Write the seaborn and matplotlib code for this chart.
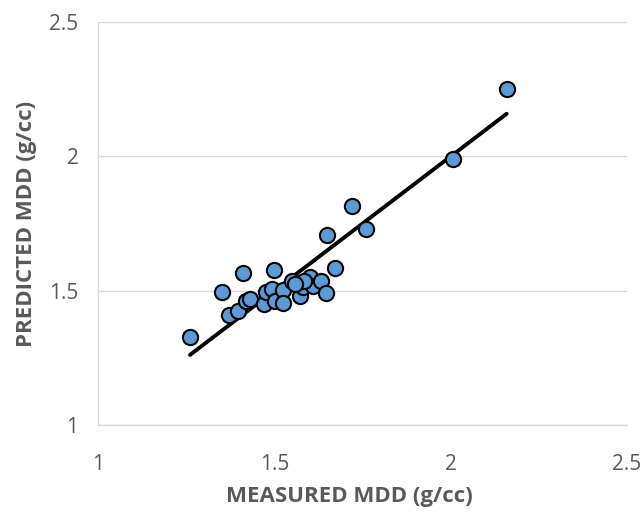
import matplotlib
matplotlib.use("Agg")
import matplotlib.pyplot as plt
import seaborn as sns
import pandas as pd

measured = [1.261, 1.351, 1.411, 1.371, 1.397, 1.421, 1.431, 1.471, 1.477, 1.493,
            1.500, 1.503, 1.524, 1.525, 1.551, 1.572, 1.580, 1.600, 1.610, 1.633,
            1.647, 1.671, 1.649, 1.721, 1.759, 2.006, 2.159, 1.583, 1.560]
predicted = [1.329, 1.495, 1.567, 1.410, 1.426, 1.460, 1.470, 1.450, 1.497, 1.506,
             1.576, 1.460, 1.504, 1.456, 1.535, 1.481, 1.513, 1.552, 1.517, 1.536,
             1.491, 1.583, 1.706, 1.814, 1.731, 1.989, 2.250, 1.535, 1.525]
line_x = [min(measured), max(measured)]
line_y = line_x

df = pd.DataFrame({"measured": measured, "predicted": predicted})

sns.set_style("white")
plt.rcParams['font.family'] = ['Open Sans', 'DejaVu Sans']

fig = plt.figure(figsize=(6.43, 5.16), dpi=100)
ax = fig.add_axes([0.1524, 0.1764, 0.8226, 0.7806])

sns.scatterplot(data=df, x="measured", y="predicted", ax=ax, s=120,
                color="#5B9BD5", edgecolor="black", linewidth=1.5, zorder=3)
sns.lineplot(x=line_x, y=line_y, ax=ax, color="black", linewidth=2.8, zorder=2)

ax.set_xlim(1, 2.5)
ax.set_ylim(1, 2.5)
ax.set_xticks([1, 1.5, 2, 2.5])
ax.set_yticks([1, 1.5, 2, 2.5])
ax.set_xticklabels(["1", "1.5", "2", "2.5"])
ax.set_yticklabels(["1", "1.5", "2", "2.5"])
ax.yaxis.grid(True, color="#d9d9d9", linewidth=1)
ax.xaxis.grid(False)
ax.set_axisbelow(True)
for side in ["top", "right"]:
    ax.spines[side].set_visible(False)
for side in ["left", "bottom"]:
    ax.spines[side].set_color("#d9d9d9")
    ax.spines[side].set_linewidth(1)
ax.tick_params(axis="both", length=0, labelsize=15, colors="#595959")
ax.tick_params(axis="x", pad=21)
ax.tick_params(axis="y", pad=14)

ax.set_xlabel("MEASURED MDD (g/cc)", fontsize=16, fontweight="bold", color="#595959")
ax.set_ylabel("PREDICTED MDD (g/cc)", fontsize=16, fontweight="bold", color="#595959", labelpad=9)
ax.xaxis.set_label_coords(0.4745, -0.152)

fig.savefig("out.png", dpi=100)
